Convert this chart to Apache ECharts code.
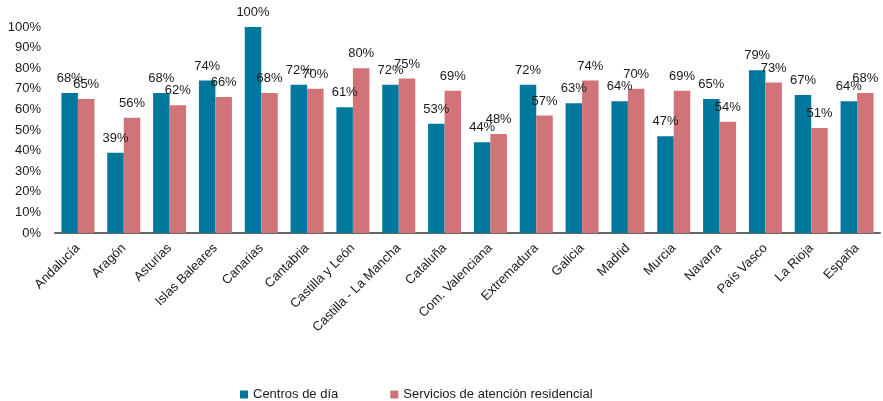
<!DOCTYPE html>
<html>
<head>
<meta charset="utf-8">
<script src="https://cdn.jsdelivr.net/npm/echarts@6/dist/echarts.min.js"></script>
<style>html,body{margin:0;padding:0;background:#fff;}#c{width:883px;height:401px;}</style>
</head>
<body>
<div id="c"></div>
<script>
const categories = ["Andalucía","Aragón","Asturias","Islas Baleares","Canarias","Cantabria","Castilla y León","Castilla - La Mancha","Cataluña","Com. Valenciana","Extremadura","Galicia","Madrid","Murcia","Navarra","País Vasco","La Rioja","España"];
const centrosDia = [68,39,68,74,100,72,61,72,53,44,72,63,64,47,65,79,67,64];
const residencial = [65,56,62,66,68,70,80,75,69,48,57,74,70,69,54,73,51,68];
const seriesNames = ["Centros de día","Servicios de atención residencial"];

const font = "'Liberation Sans', Arial, sans-serif";
const chart = echarts.init(document.getElementById('c'), null, {renderer:'canvas'});
const labelCfg = {show:true, position:'top', distance:8, formatter:'{c}%', color:'#1a1a1a', fontSize:13, fontFamily:font};
chart.setOption({
  animation:false,
  grid:{left:55, right:3, top:27, bottom:168, containLabel:false},
  legend:{
    data:seriesNames, left:235, top:383, itemWidth:8, itemHeight:8, itemGap:52,
    icon:'rect', textStyle:{fontSize:13, color:'#1a1a1a', fontFamily:font}
  },
  xAxis:{
    type:'category', data:categories,
    axisLine:{lineStyle:{color:'#666', width:2}},
    axisTick:{show:false},
    axisLabel:{rotate:45, interval:0, margin:13, fontSize:13, color:'#1a1a1a', fontFamily:font}
  },
  yAxis:{
    type:'value', min:0, max:100, interval:10,
    axisLine:{show:false}, axisTick:{show:false}, splitLine:{show:false},
    axisLabel:{formatter:'{value}%', margin:14, fontSize:13, color:'#1a1a1a', fontFamily:font}
  },
  series:[
    {name:seriesNames[0], type:'bar', data:centrosDia, barGap:'0%', barCategoryGap:'28%',
     itemStyle:{color:'#00789E'}, label:labelCfg},
    {name:seriesNames[1], type:'bar', data:residencial, barGap:'0%', barCategoryGap:'28%',
     itemStyle:{color:'#D07478'}, label:labelCfg}
  ]
});
</script>
</body>
</html>
